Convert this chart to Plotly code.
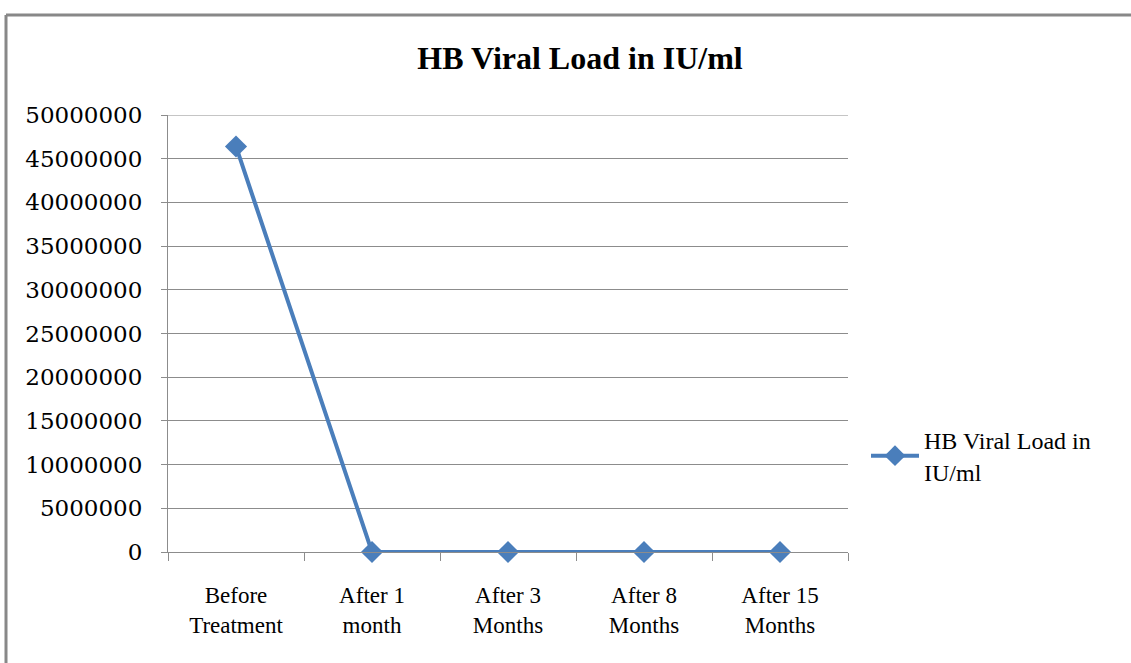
import plotly.graph_objects as go

categories = ["Before<br>Treatment", "After 1<br>month", "After 3<br>Months", "After 8<br>Months", "After 15<br>Months"]
viral_load = [46400000, 1000, 0, 0, 0]
y_ticks = [0, 5000000, 10000000, 15000000, 20000000, 25000000, 30000000, 35000000, 40000000, 45000000, 50000000]
series_name = "HB Viral Load in<br>IU/ml"
title_text = "HB Viral Load in IU/ml"

W, H = 1131, 663
L, R, T, B = 168, 848, 115, 552

fig = go.Figure()
fig.add_trace(go.Scatter(
    x=categories, y=viral_load, mode="lines+markers", name=series_name,
    line=dict(color="#4a7ebb", width=4),
    marker=dict(symbol="diamond", size=17, color="#4a7ebb"),
    cliponaxis=False,
))

grid = "#8c8c8c"
fig.update_layout(
    width=W, height=H,
    margin=dict(l=L, r=W - R, t=T, b=H - B),
    paper_bgcolor="white", plot_bgcolor="white",
    showlegend=True,
    title=dict(text="<b>" + title_text + "</b>", x=(580 - L) / (R - L), xref="paper", xanchor="center",
               y=1 - 58 / H, yanchor="middle",
               font=dict(family="Liberation Serif", size=32, color="black")),
    legend=dict(x=(866 - L) / (R - L), xanchor="left", y=(B - 456) / (B - T), yanchor="middle",
                font=dict(family="Liberation Serif", size=24, color="black"),
                bgcolor="rgba(0,0,0,0)", itemwidth=48),
    xaxis=dict(type="category", showline=True, linecolor=grid, linewidth=1,
               ticks="outside", tickson="boundaries", ticklen=8, tickcolor=grid,
               showgrid=False, ticklabelstandoff=22,
               tickfont=dict(family="Liberation Serif", size=23, color="black"),
               range=[-0.5, 4.5]),
    yaxis=dict(range=[0, y_ticks[-1]], tickvals=y_ticks, ticktext=[str(v) for v in y_ticks],
               showline=True, linecolor=grid, linewidth=1,
               ticks="outside", ticklen=6, tickcolor=grid,
               showgrid=True, gridcolor=grid, gridwidth=1, zeroline=False,
               ticklabelstandoff=14,
               tickfont=dict(family="DejaVu Serif", size=23, color="black")),
)

# top gridline (at the upper range edge)
fig.add_shape(type="line", xref="paper", yref="y", x0=0, x1=1, y0=y_ticks[-1], y1=y_ticks[-1],
              line=dict(color=grid, width=1), layer="below")

# outer chart border (top and left edges visible)
px_x = lambda p: (p - L) / (R - L)
px_y = lambda p: (B - p) / (B - T)
fig.add_shape(type="line", xref="paper", yref="paper", x0=px_x(6), x1=px_x(1140), y0=px_y(15), y1=px_y(15),
              line=dict(color="#888888", width=3))
fig.add_shape(type="line", xref="paper", yref="paper", x0=px_x(6), x1=px_x(6), y0=px_y(15), y1=px_y(680),
              line=dict(color="#888888", width=3))

fig.write_html("out.html", config={"displayModeBar": False},
               post_script="document.body.style.margin='0';")
